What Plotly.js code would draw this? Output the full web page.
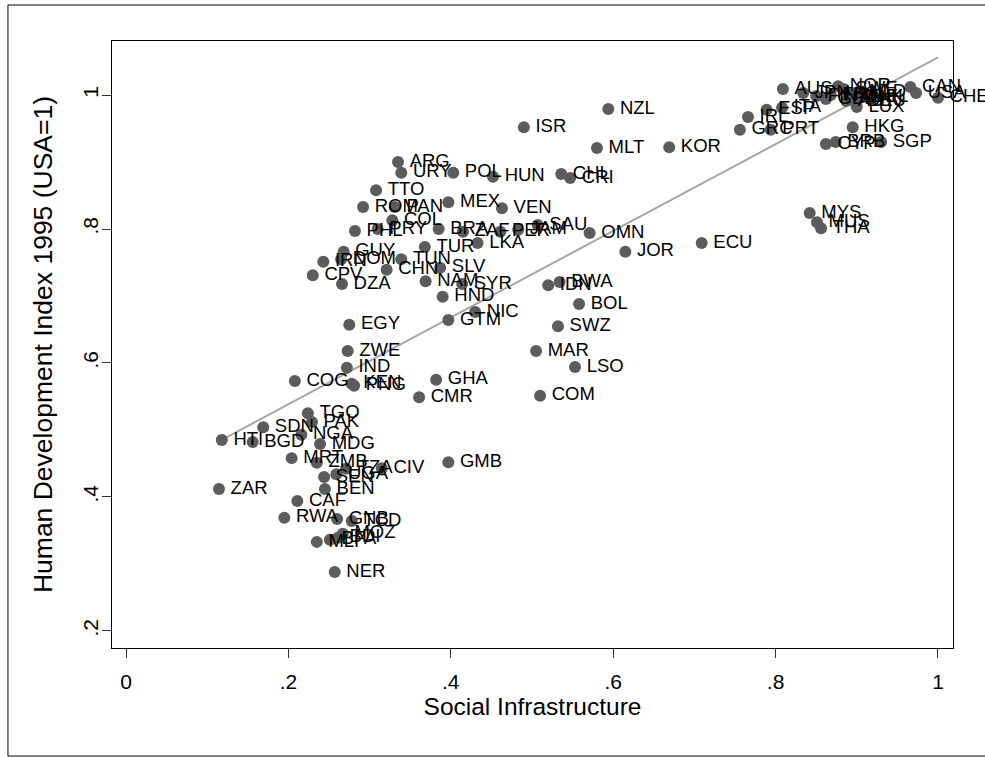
<!DOCTYPE html>
<html>
<head>
<meta charset="utf-8">
<script src="https://cdn.plot.ly/plotly-3.0.1.min.js"></script>
<style>html,body{margin:0;padding:0;background:#fff;}#chart{width:985px;height:757px;}</style>
</head>
<body>
<div id="chart"></div>
<script>
// Country codes (labels)
const countries = [
 "ZAR","HTI","BGD","SDN","TGO","PAK","NGA","MDG","MRT","ZMB",
 "SEN","UGA","TZA","CIV","BEN","CAF","RWA","GNB","TCD","MOZ",
 "BDI","BFA","MLI","NER","COG","IND","KEN","PNG","CMR","GHA",
 "GMB","EGY","ZWE","COM","MAR","LSO","SWZ","BOL","IDN","BWA",
 "NIC","GTM","HND","NAM","SYR","SLV","TUN","CHN","TUR","LKA",
 "BRA","ZAF","PER","JAM","SAU","OMN","JOR","ECU","MEX","VEN",
 "PAN","ROM","COL","TTO","PHL","PRY","ARG","URY","POL","HUN",
 "CHL","CRI","GUY","DOM","IRN","CPV","DZA","ISR","NZL","MLT",
 "KOR","GRC","PRT","IRL","ESP","ITA","AUS","JPN","FIN","GBR",
 "FRA","NOR","SWE","NLD","ISL","DNK","BEL","AUT","DEU","LUX",
 "CAN","USA","CHE","HKG","CYP","BRB","SGP","MYS","MUS","THA"
];
// Social Infrastructure (x)
const socialInfra = [
 0.1145,0.118,0.156,0.169,0.224,0.229,0.216,0.239,0.204,0.235,
 0.244,0.259,0.271,0.315,0.245,0.211,0.195,0.260,0.278,0.267,
 0.261,0.251,0.235,0.257,0.208,0.272,0.278,0.281,0.361,0.382,
 0.397,0.275,0.273,0.510,0.505,0.553,0.532,0.558,0.520,0.534,
 0.430,0.397,0.390,0.369,0.414,0.387,0.339,0.321,0.368,0.433,
 0.385,0.415,0.461,0.483,0.507,0.571,0.615,0.709,0.397,0.463,
 0.331,0.292,0.328,0.308,0.282,0.310,0.335,0.339,0.403,0.452,
 0.536,0.547,0.268,0.265,0.243,0.230,0.266,0.490,0.594,0.580,
 0.669,0.756,0.794,0.766,0.789,0.808,0.809,0.834,0.850,0.862,
 0.868,0.877,0.884,0.901,0.890,0.895,0.906,0.887,0.898,0.900,
 0.966,0.973,1.000,0.895,0.862,0.874,0.930,0.842,0.851,0.856
];
// Human Development Index 1995 (USA=1) (y)
const hdi = [
 0.412,0.485,0.482,0.504,0.525,0.512,0.493,0.479,0.458,0.451,
 0.430,0.434,0.442,0.443,0.412,0.394,0.369,0.367,0.364,0.345,
 0.339,0.336,0.333,0.288,0.573,0.593,0.569,0.566,0.549,0.575,
 0.452,0.657,0.618,0.551,0.618,0.594,0.655,0.688,0.716,0.721,
 0.676,0.664,0.699,0.722,0.718,0.742,0.755,0.739,0.773,0.779,
 0.800,0.796,0.796,0.799,0.806,0.794,0.766,0.779,0.840,0.831,
 0.833,0.833,0.813,0.858,0.797,0.800,0.900,0.884,0.884,0.878,
 0.882,0.876,0.766,0.755,0.751,0.731,0.718,0.952,0.979,0.921,
 0.922,0.948,0.948,0.967,0.978,0.981,1.009,1.003,0.9985,0.994,
 1.000,1.013,1.009,1.004,1.001,0.996,0.997,0.991,0.990,0.982,
 1.012,1.003,0.996,0.952,0.927,0.930,0.930,0.824,0.810,0.801
];
// Fitted line (intercept, slope) as shown in the chart
const fitCoef = [0.409, 0.647];
const xTickVals = [0,0.2,0.4,0.6,0.8,1];
const xTickText = ["0",".2",".4",".6",".8","1"];
const yTickVals = [0.2,0.4,0.6,0.8,1];
const yTickText = [".2",".4",".6",".8","1"];

const xmin = Math.min(...socialInfra), xmax = Math.max(...socialInfra);
const fitX = [xmin, xmax];
const fitY = fitX.map(v=>fitCoef[0]+fitCoef[1]*v);

const FONT = "Liberation Sans, Arial, Helvetica, sans-serif";
const traces = [
 {x:fitX, y:fitY, mode:'lines', line:{color:'#a6a6a6', width:2}, hoverinfo:'skip', showlegend:false},
 {x:socialInfra, y:hdi, mode:'markers', marker:{size:12, color:'#5c5c5c', line:{width:0}}, showlegend:false, cliponaxis:false},
 {x:socialInfra, y:hdi, mode:'markers+text', text:countries, textposition:'middle right',
  textfont:{family:FONT, size:18.5, color:'#000'},
  marker:{size:17, color:'rgba(0,0,0,0)', line:{width:0}}, showlegend:false, cliponaxis:false}
];
const layout = {
 width:985, height:757,
 margin:{l:112, r:32, t:41, b:109},
 paper_bgcolor:'#fff', plot_bgcolor:'#fff',
 font:{family:FONT, color:'#000'},
 showlegend:false,
 xaxis:{range:[-0.01724,1.0185], tickvals:xTickVals, ticktext:xTickText, ticks:'outside', ticklen:9, tickcolor:'#333',
   showline:true, mirror:true, linecolor:'#000', linewidth:1, showgrid:false, zeroline:false, ticklabelstandoff:6,
   tickfont:{size:21}, title:{text:'Social Infrastructure', font:{size:24.5}, standoff:2}},
 yaxis:{range:[0.1746,1.0806], tickvals:yTickVals, ticktext:yTickText, ticks:'outside', ticklen:9, tickcolor:'#333',
   showline:true, mirror:true, linecolor:'#000', linewidth:1, showgrid:false, zeroline:false, tickangle:-90,
   ticklabelstandoff:-4,
   tickfont:{size:21}, title:{text:'Human Development Index 1995 (USA=1)', font:{size:26.5}, standoff:18}},
 shapes:[{type:'rect', xref:'paper', yref:'paper', x0:-0.1237, x1:1.1, y0:-0.178, y1:1.0593,
   line:{color:'#000', width:1}, fillcolor:'rgba(0,0,0,0)', layer:'below'}]
};
Plotly.newPlot('chart', traces, layout, {staticPlot:true});
</script>
</body>
</html>
